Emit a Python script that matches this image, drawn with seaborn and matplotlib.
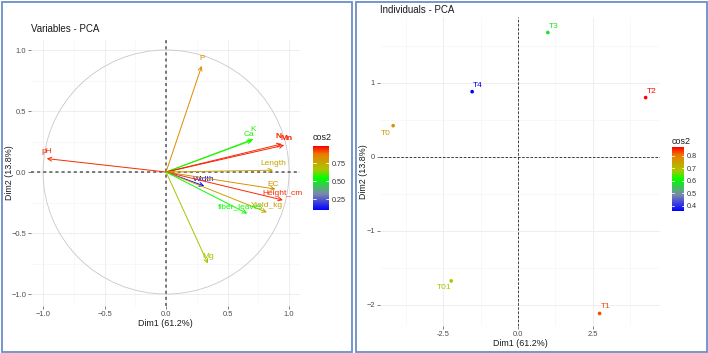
import numpy as np
import pandas as pd
import seaborn as sns
import matplotlib
matplotlib.use("Agg")
import matplotlib.pyplot as plt
from matplotlib.colors import LinearSegmentedColormap, Normalize
from matplotlib.cm import ScalarMappable
from matplotlib.patches import Circle, Rectangle

# variables (loadings on Dim1 / Dim2) and their cos2
var_names = ["pH", "P", "Ca", "K", "N", "Mn", "Length", "Width", "EC",
             "Height_cm", "Yield_kg", "fiber_leaves", "Mg"]
var_dim1 = [-0.97, 0.29, 0.70, 0.71, 0.94, 0.96, 0.87, 0.31, 0.89, 0.95, 0.82, 0.66, 0.34]
var_dim2 = [0.11, 0.87, 0.26, 0.27, 0.23, 0.22, 0.015, -0.115, -0.14, -0.23, -0.33, -0.34, -0.75]
var_cos2 = [0.95, 0.84, 0.56, 0.57, 0.95, 0.96, 0.76, 0.11, 0.81, 0.95, 0.78, 0.55, 0.68]

# individuals
ind_names = ["T0", "T01", "T1", "T2", "T3", "T4"]
ind_dim1 = [-4.17, -2.23, 2.73, 4.27, 1.00, -1.53]
ind_dim2 = [0.42, -1.68, -2.12, 0.80, 1.68, 0.88]
ind_cos2 = [0.76, 0.68, 0.83, 0.87, 0.58, 0.36]

sns.set_theme(style="whitegrid")
plt.rcParams["font.family"] = ["Liberation Sans", "DejaVu Sans"]

cmap = LinearSegmentedColormap.from_list(
    "bgr", [(0.0, "#0000FF"), (0.25, "#7C86B0"), (0.5, "#00FF00"),
            (0.63, "#A6C800"), (0.75, "#C8A400"), (0.875, "#EC7A00"), (1.0, "#FF0000")])

W, H = 708, 353
fig = plt.figure(figsize=(W / 100, H / 100), dpi=100)


def px_axes(x0, y0, x1, y1):
    return fig.add_axes([x0 / W, (H - y1) / H, (x1 - x0) / W, (y1 - y0) / H])


def style_ax(ax):
    ax.set_facecolor("white")
    for s in ax.spines.values():
        s.set_visible(False)
    ax.grid(which="major", color="#EBEBEB", lw=0.6)
    ax.grid(which="minor", color="#F3F3F3", lw=0.4)
    ax.tick_params(axis="both", which="major", labelsize=5.4, colors="#4D4D4D",
                   length=2, width=0.5, pad=1.5, left=True, bottom=True)
    ax.tick_params(axis="both", which="minor", length=0)


def add_cbar(rect, norm, ticks, labels, title_y):
    cax = px_axes(*rect)
    cb = fig.colorbar(ScalarMappable(norm=norm, cmap=cmap), cax=cax, ticks=ticks)
    cb.outline.set_visible(False)
    cb.ax.set_yticklabels(labels)
    cb.ax.tick_params(labelsize=5.2, colors="#333333", length=0, pad=2)
    for t in ticks:
        cb.ax.axhline(t, xmin=0, xmax=0.2, color="white", lw=0.6)
        cb.ax.axhline(t, xmin=0.8, xmax=1, color="white", lw=0.6)
    fig.text(rect[0] / W, 1 - title_y / H, "cos2", fontsize=6.4, color="#1A1A1A",
             va="center", ha="left")


# ---------------- Variables - PCA ----------------
ax1 = px_axes(31, 40, 300, 306)
style_ax(ax1)
ax1.set_xlim(-1.098, 1.089)
ax1.set_ylim(-1.098, 1.082)
ax1.set_xticks([-1.0, -0.5, 0.0, 0.5, 1.0])
ax1.set_yticks([-1.0, -0.5, 0.0, 0.5, 1.0])
ax1.set_xticks([-0.75, -0.25, 0.25, 0.75], minor=True)
ax1.set_yticks([-0.75, -0.25, 0.25, 0.75], minor=True)
ax1.add_patch(Circle((0, 0), 1, fill=False, ec="#C8C8C8", lw=0.6))
ax1.axhline(0, color="#555555", lw=1.1, ls=(0, (2, 2)))
ax1.axvline(0, color="#555555", lw=1.1, ls=(0, (2, 2)))

norm1 = Normalize(0.10, 0.99)
label_off = {"Ca": (-3, 6), "K": (0, 10), "N": (-3, 7), "Mn": (2, 7), "EC": (-2, 5),
             "fiber_leaves": (-7, 7)}
for name, x, y, c in zip(var_names, var_dim1, var_dim2, var_cos2):
    col = cmap(norm1(c))
    ax1.annotate("", xy=(x, y), xytext=(0, 0),
                 arrowprops=dict(arrowstyle="->", color=col, lw=0.7, mutation_scale=7,
                                 shrinkA=0, shrinkB=0))
    dx, dy = label_off.get(name, (0, 7))
    t = ax1.annotate(name, xy=(x, y), xytext=(dx, dy), textcoords="offset pixels",
                     ha="center", va="center", fontsize=6, color=col,
                     fontweight="bold" if name in ("N", "Mn") else "normal")
    t.set_clip_on(True)

ax1.set_xlabel("Dim1 (61.2%)", fontsize=6.4, color="#1A1A1A")
ax1.set_ylabel("Dim2 (13.8%)", fontsize=6.4, color="#1A1A1A")
ax1.xaxis.set_label_coords(0.5, -0.049)
ax1.yaxis.set_label_coords(-0.063, 0.5)
fig.text(31 / W, 1 - 29 / H, "Variables - PCA", fontsize=7, color="#1A1A1A", va="center")
add_cbar((313, 146, 329, 210), norm1, [0.25, 0.5, 0.75], ["0.25", "0.50", "0.75"], 138)

# ---------------- Individuals - PCA ----------------
ax2 = px_axes(380, 17, 660, 326)
style_ax(ax2)
df_ind = pd.DataFrame({"name": ind_names, "Dim1": ind_dim1, "Dim2": ind_dim2, "cos2": ind_cos2})
norm2 = Normalize(0.36, 0.87)
ax2.axhline(0, color="#222222", lw=0.6, ls=(0, (3, 2)))
ax2.axvline(0, color="#222222", lw=0.6, ls=(0, (3, 2)))
sns.scatterplot(data=df_ind, x="Dim1", y="Dim2", hue="cos2", palette=cmap, hue_norm=norm2,
                s=7, linewidth=0, legend=False, ax=ax2, zorder=3)
ind_off = {"T0": (-7, -8), "T01": (-7, -7), "T1": (6, 7), "T2": (6, 6), "T3": (6, 6), "T4": (6, 6)}
for name, x, y, c in zip(ind_names, ind_dim1, ind_dim2, ind_cos2):
    dx, dy = ind_off[name]
    ax2.annotate(name, xy=(x, y), xytext=(dx, dy), textcoords="offset pixels",
                 ha="center", va="center", fontsize=6, color=cmap(norm2(c)))
ax2.set_xlim(-4.61, 4.75)
ax2.set_ylim(-2.29, 1.89)
ax2.set_xticks([-2.5, 0.0, 2.5])
ax2.set_xticklabels(["-2.5", "0.0", "2.5"])
ax2.set_yticks([-2, -1, 0, 1])
ax2.set_xticks([-3.75, -1.25, 1.25, 3.75], minor=True)
ax2.set_yticks([-1.5, -0.5, 0.5, 1.5], minor=True)
ax2.set_xlabel("Dim1 (61.2%)", fontsize=6.4, color="#1A1A1A")
ax2.set_ylabel("Dim2 (13.8%)", fontsize=6.4, color="#1A1A1A")
ax2.xaxis.set_label_coords(0.5, -0.042)
ax2.yaxis.set_label_coords(-0.043, 0.5)
fig.text(380 / W, 1 - 10 / H, "Individuals - PCA", fontsize=7, color="#1A1A1A", va="center")
add_cbar((672, 147, 684, 211), norm2, [0.4, 0.5, 0.6, 0.7, 0.8],
         ["0.4", "0.5", "0.6", "0.7", "0.8"], 142)

# panel frames
for x0, x1 in [(1.5, 351.5), (355.5, 706.5)]:
    fig.add_artist(Rectangle((x0 / W, 1.5 / H), (x1 - x0) / W, (H - 3) / H,
                             transform=fig.transFigure, fill=False, ec="#6A8FCB", lw=1.3))

fig.savefig("out.png", dpi=100)
